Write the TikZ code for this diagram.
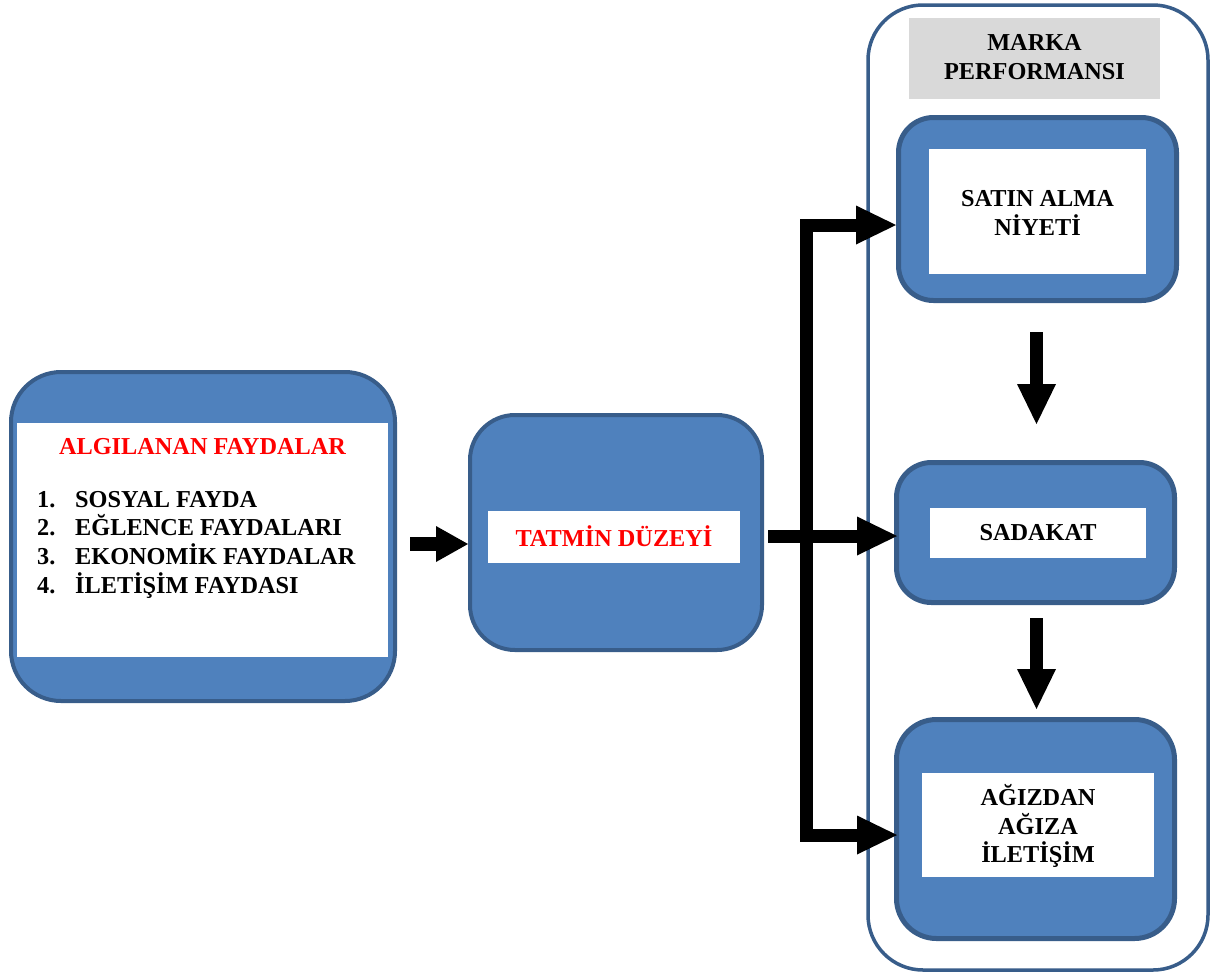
\documentclass[tikz,border=0pt]{standalone}
\usepackage{fontspec}
\setmainfont{Liberation Serif}
\usetikzlibrary{arrows.meta}
\definecolor{boxfill}{HTML}{4F81BD}
\definecolor{boxline}{HTML}{385D8A}
\definecolor{headgray}{HTML}{D9D9D9}
\definecolor{titlered}{HTML}{FF0000}
\begin{document}
\begin{tikzpicture}[x=1pt,y=-1pt,
  txt/.style={font=\fontsize{24.3}{28.7}\selectfont\bfseries, align=center, inner sep=0pt},
  bluebox/.style={draw=boxline, fill=boxfill, inner sep=0pt},
  whitebox/.style={fill=white, inner sep=0pt},
  fatarrow/.style={line width=13pt, -{Triangle[length=40pt,width=39pt,line width=0pt]}},
  busline/.style={line width=13pt, line join=miter,
    {Triangle[length=40pt,width=39pt,line width=0pt]}-{Triangle[length=40pt,width=39pt,line width=0pt]}},
  smallarrow/.style={line width=14pt, -{Triangle[length=32pt,width=36pt,line width=0pt]}}
]
\useasboundingbox (0,0) rectangle (1218,975);

% outer container of the brand performance block
\node[draw=boxline, line width=3.5pt, fill=white, rounded corners=55pt,
      minimum width=340pt, minimum height=965pt, inner sep=0pt] (C) at (1038,487.5) {};
\node[fill=headgray, minimum width=251pt, minimum height=81pt, inner sep=0pt] (G) at (1034.5,58.5) {};
\node[txt] (Gt) at (1034.5,57) {MARKA\\PERFORMANSI};

% perceived benefits
\node[bluebox, line width=4pt, rounded corners=50pt, minimum width=384pt, minimum height=329pt] (L) at (203,536.5) {};
\node[whitebox, minimum width=371pt, minimum height=234pt] (Lw) at (202.5,540) {};
\node[txt, text=titlered] (Lt) at (202.5,447) {ALGILANAN FAYDALAR};
\node[txt, align=left, anchor=west] (Ll) at (37,544.5)
  {\makebox[38pt][l]{1.}SOSYAL FAYDA\\
   \makebox[38pt][l]{2.}EĞLENCE FAYDALARI\\
   \makebox[38pt][l]{3.}EKONOMİK FAYDALAR\\
   \makebox[38pt][l]{4.}İLETİŞİM FAYDASI};

% satisfaction level
\node[bluebox, line width=4pt, rounded corners=45pt, minimum width=292pt, minimum height=235pt] (T) at (616,532.5) {};
\node[whitebox, minimum width=252pt, minimum height=52pt] (Tw) at (614,537) {};
\node[txt, text=titlered] (Tt) at (614,536) {TATMİN DÜZEYİ};

% outcomes
\node[bluebox, line width=5pt, rounded corners=35pt, minimum width=278pt, minimum height=183pt] (S) at (1037.5,209) {};
\node[whitebox, minimum width=217pt, minimum height=125pt] (Sw) at (1037.5,211.5) {};
\node[txt] (St) at (1037.5,213) {SATIN ALMA\\NİYETİ};

\node[bluebox, line width=5pt, rounded corners=35pt, minimum width=278pt, minimum height=140pt] (D) at (1035.5,532.5) {};
\node[whitebox, minimum width=216pt, minimum height=50pt] (Dw) at (1038,533) {};
\node[txt] (Dt) at (1038,533) {SADAKAT};

\node[bluebox, line width=5pt, rounded corners=40pt, minimum width=278pt, minimum height=219pt] (A) at (1035.5,829) {};
\node[whitebox, minimum width=232pt, minimum height=104pt] (Aw) at (1038,825) {};
\node[txt] (At) at (1038,826) {AĞIZDAN\\AĞIZA\\İLETİŞİM};

% connectors
\coordinate (lt) at (0,544);
\draw[smallarrow, shorten <=13pt] (L.east |- lt) -- (T.west |- lt);

\coordinate (mid) at (0,536);
\draw[fatarrow, shorten <=4pt, shorten >=-3pt] (T.east |- mid) -- (D.west |- mid);

\coordinate (busTop) at (806,225);
\coordinate (busBot) at (806,835);
\draw[busline, shorten >=-3pt] (S.west |- busTop) -- (busTop) -- (busBot) -- (A.west |- busBot);

\coordinate (dn) at (1036.5,0);
\draw[fatarrow, shorten <=29pt, shorten >=36pt] (S.south -| dn) -- (D.north -| dn);
\draw[fatarrow, shorten <=13pt, shorten >=8pt] (D.south -| dn) -- (A.north -| dn);
\end{tikzpicture}
\end{document}
